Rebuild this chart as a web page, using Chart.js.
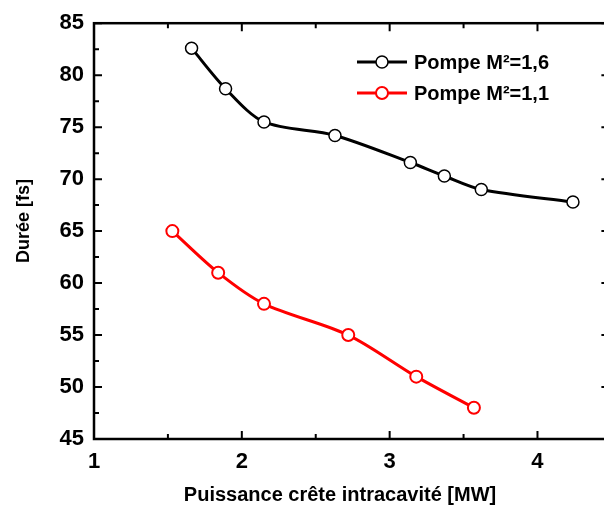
<!DOCTYPE html>
<html>
<head>
<meta charset="utf-8">
<script src="https://cdn.jsdelivr.net/npm/chart.js@4/dist/chart.umd.min.js"></script>
<style>
  html, body { margin: 0; padding: 0; background: #fff; overflow: hidden; }
  canvas { display: block; }
</style>
</head>
<body>
<canvas id="myChart" width="604" height="511"></canvas>
<script>
// Durée d'impulsion en fonction de la puissance crête intracavité
const seriesLabels = ['Pompe M²=1,6', 'Pompe M²=1,1'];
const seriesColors = ['#000000', '#ff0000'];

const puissanceM16 = [1.66, 1.89, 2.15, 2.63, 3.14, 3.37, 3.62, 4.24];
const dureeM16 = [82.6, 78.7, 75.5, 74.2, 71.6, 70.3, 69.0, 67.8];

const puissanceM11 = [1.53, 1.84, 2.15, 2.72, 3.18, 3.57];
const dureeM11 = [65, 61, 58, 55, 51, 48];

const xTicks = [1, 2, 3, 4];
const yTicks = [45, 50, 55, 60, 65, 70, 75, 80, 85];

const xTitle = 'Puissance crête intracavité [MW]';
const yTitle = 'Durée [fs]';

const toPoints = (xs, ys) => xs.map((x, i) => ({ x: x, y: ys[i] }));

const FONT = 'Liberation Sans, Arial, sans-serif';
const X_FRAME_MAX = 4.5; // le cadre droit tombe juste hors du canvas

// cadre + graduations vers l'intérieur sur les quatre côtés
const frameTicks = {
    id: 'frameTicks',
    afterDraw(chart) {
        const ctx = chart.ctx;
        const a = chart.chartArea;
        const xs = chart.scales.x, ys = chart.scales.y;
        const right = xs.getPixelForValue(X_FRAME_MAX);
        ctx.save();
        ctx.strokeStyle = '#000';
        ctx.lineWidth = 2.5;
        ctx.strokeRect(a.left, a.top, right - a.left, a.bottom - a.top);
        ctx.lineWidth = 2;
        ctx.beginPath();
        for (let v = xs.min; v <= X_FRAME_MAX + 1e-9; v += 0.5) {
            const p = xs.getPixelForValue(v);
            const len = Math.abs(v - Math.round(v)) < 1e-6 ? 8 : 5;
            ctx.moveTo(p, a.bottom); ctx.lineTo(p, a.bottom - len);
            ctx.moveTo(p, a.top); ctx.lineTo(p, a.top + len);
        }
        for (let v = ys.min; v <= ys.max + 1e-9; v += 2.5) {
            const p = ys.getPixelForValue(v);
            const major = v % 5 === 0;
            ctx.moveTo(a.left, p); ctx.lineTo(a.left + (major ? 8 : 5), p);
            ctx.moveTo(right, p); ctx.lineTo(right - (major ? 10 : 6), p);
        }
        ctx.stroke();

        // titres des axes
        ctx.fillStyle = '#000';
        ctx.textAlign = 'center';
        ctx.textBaseline = 'middle';
        ctx.font = 'bold 20px ' + FONT;
        ctx.fillText(xTitle, 340, 495);
        ctx.translate(24, 221);
        ctx.rotate(-Math.PI / 2);
        ctx.font = 'bold 18px ' + FONT;
        ctx.fillText(yTitle, 0, 0);
        ctx.restore();
    }
};

// légende dans le coin supérieur droit
const insideLegend = {
    id: 'insideLegend',
    afterDatasetsDraw(chart) {
        const ctx = chart.ctx;
        ctx.save();
        chart.data.datasets.forEach((ds, i) => {
            const y = 62 + i * 31;
            ctx.strokeStyle = ds.borderColor;
            ctx.lineWidth = 3;
            ctx.beginPath();
            ctx.moveTo(357, y); ctx.lineTo(407, y);
            ctx.stroke();
            ctx.beginPath();
            ctx.arc(382, y, 6, 0, Math.PI * 2);
            ctx.fillStyle = '#fff';
            ctx.fill();
            ctx.lineWidth = ds.pointBorderWidth;
            ctx.stroke();
            ctx.fillStyle = '#000';
            ctx.font = 'bold 20px ' + FONT;
            ctx.textBaseline = 'alphabetic';
            ctx.fillText(ds.label, 414, y + 7);
        });
        ctx.restore();
    }
};

const ctx = document.getElementById('myChart').getContext('2d');
const myChart = new Chart(ctx, {
    type: 'line',
    data: {
        datasets: [{
            label: seriesLabels[0],
            data: toPoints(puissanceM16, dureeM16),
            borderColor: seriesColors[0],
            backgroundColor: '#fff',
            borderWidth: 3,
            pointRadius: 6,
            pointBorderWidth: 1.5,
            pointBackgroundColor: '#fff',
            tension: 0.3
        }, {
            label: seriesLabels[1],
            data: toPoints(puissanceM11, dureeM11),
            borderColor: seriesColors[1],
            backgroundColor: '#fff',
            borderWidth: 3,
            pointRadius: 6,
            pointBorderWidth: 2,
            pointBackgroundColor: '#fff',
            tension: 0.3
        }]
    },
    options: {
        responsive: false,
        animation: false,
        layout: {
            autoPadding: false,
            padding: { top: 22, right: 0, left: 0, bottom: 0 }
        },
        plugins: {
            legend: { display: false },
            tooltip: { enabled: false }
        },
        scales: {
            x: {
                type: 'linear',
                min: 1,
                max: 4.45,
                afterBuildTicks: scale => { scale.ticks = xTicks.map(v => ({ value: v })); },
                afterFit: scale => {
                    scale.height = 72;
                    scale.paddingLeft = 0;
                    scale.paddingRight = 0;
                },
                grid: { display: false, drawTicks: false },
                border: { display: false },
                ticks: {
                    color: '#000',
                    padding: 10,
                    maxRotation: 0,
                    font: { family: FONT, size: 22, weight: 'bold' }
                },
                title: { display: false }
            },
            y: {
                min: 45,
                max: 85,
                afterBuildTicks: scale => { scale.ticks = yTicks.map(v => ({ value: v })); },
                afterFit: scale => { scale.width = 94; },
                grid: { display: false, drawTicks: false },
                border: { display: false },
                ticks: {
                    color: '#000',
                    padding: 10,
                    font: { family: FONT, size: 22, weight: 'bold' }
                },
                title: { display: false }
            }
        }
    },
    plugins: [frameTicks, insideLegend]
});
</script>
</body>
</html>
